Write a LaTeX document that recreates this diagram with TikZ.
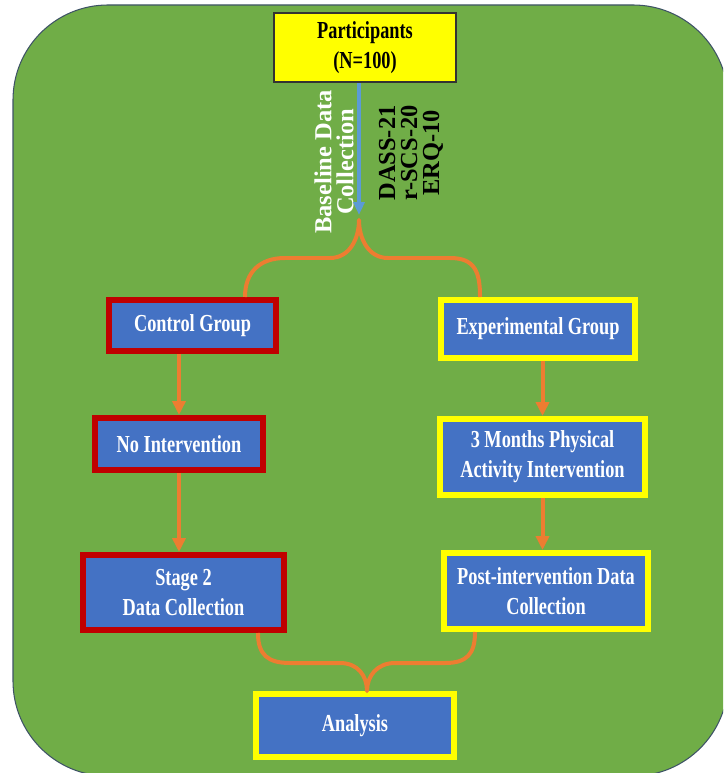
\documentclass[tikz,border=0pt]{standalone}
\usepackage{fontspec}
\setmainfont{Liberation Serif}
\newfontfamily\narrowfont{Liberation Serif}[FakeStretch=0.75]
\usepackage{tikz}
\usetikzlibrary{arrows.meta}
\definecolor{bggreen}{HTML}{70AD47}
\definecolor{boxblue}{HTML}{4472C4}
\definecolor{ctrlred}{HTML}{C00000}
\definecolor{expyellow}{HTML}{FFFF00}
\definecolor{linkorange}{HTML}{ED7D31}
\definecolor{arrowblue}{HTML}{5B9BD5}
\definecolor{rimgray}{HTML}{3E5366}

\begin{document}
\begin{tikzpicture}[x=0.02cm,y=-0.02cm,
  box/.style={draw,line width=0.12cm,fill=boxblue,text=white,align=center,inner sep=0pt,font=\narrowfont\bfseries\fontsize{13.9}{17}\selectfont},
  ctrl/.style={box,draw=ctrlred},
  expt/.style={box,draw=expyellow},
  link/.style={draw=linkorange,line width=0.08cm},
  brace/.style={link,line join=round},
  side/.style={rotate=90,align=center,font=\bfseries\fontsize{13.9}{12.5}\selectfont},
]
% background panel
\useasboundingbox (0,0) rectangle (723,773);
\clip (0,0) rectangle (723,773);
\filldraw[fill=bggreen,draw=rimgray,line width=0.6pt,rounded corners=1.9cm] (13,5) rectangle (728,776);
% top box
\node[fill=expyellow,draw=black!80,line width=1pt,minimum width=3.64cm,minimum height=1.38cm,align=center,
  font=\narrowfont\bfseries\fontsize{13.9}{17}\selectfont] (part) at (365,47.5) {Participants\\(N=100)};
% control arm
\node[ctrl,minimum width=3.34cm,minimum height=1.02cm] (cg) at (192.5,325.5) {Control Group};
\node[ctrl,minimum width=3.36cm,minimum height=1.04cm] (ni) at (179,444) {No Intervention};
\node[ctrl,minimum width=4.02cm,minimum height=1.5cm] (s2) at (183.5,592.5) {Stage 2\\Data Collection};
% experimental arm
\node[expt,minimum width=3.88cm,minimum height=1.16cm] (eg) at (538,329) {Experimental Group};
\node[expt,minimum width=4.1cm,minimum height=1.52cm] (pa) at (542.5,457) {3 Months Physical\\Activity Intervention};
\node[expt,minimum width=4.08cm,minimum height=1.52cm] (pd) at (546,591) {Post-intervention Data\\Collection};
% final box
\node[expt,minimum width=3.96cm,minimum height=1.26cm] (an) at (355,725.5) {Analysis};
% rotated labels
\node[side,text=white] (base) at (334,162) {Baseline Data\\Collection};
\node[side] (scales) at (411,153) {DASS-21\\r-SCS-20\\ERQ-10};
% baseline arrow and split
\coordinate (fork) at (359,220);
\draw[arrowblue,line width=0.08cm,-{Triangle[width=0.22cm,length=0.26cm]}] (part.south -| fork) -- ([yshift=0.1cm]fork);
\coordinate (cgtop) at ([xshift=1.05cm]cg.north);
\coordinate (egtop) at ([xshift=-1.16cm]eg.north);
\draw[brace] (cgtop) .. controls +(0,-25) and +(-25,0) .. (285,258) -- (330,258)
  .. controls +(20,0) and +(0,18) .. (fork) .. controls +(0,18) and +(-20,0) .. (388,258)
  -- (450,258) .. controls +(25,0) and +(0,-25) .. (egtop);
% arm arrows
\draw[link,-{Triangle[width=0.26cm,length=0.28cm]}] (cg.south -| ni.north) -- (ni.north);
\draw[link,-{Triangle[width=0.26cm,length=0.28cm]}] (ni.south) -- (ni.south |- s2.north);
\draw[link,-{Triangle[width=0.26cm,length=0.28cm]}] (eg.south -| pa.north) -- (pa.north);
\draw[link,-{Triangle[width=0.26cm,length=0.28cm]}] (pa.south) -- (pa.south |- pd.north);
% merge into analysis
\coordinate (s2bot) at ([xshift=1.49cm]s2.south);
\coordinate (pdbot) at ([xshift=-1.42cm]pd.south);
\coordinate (antop) at ([xshift=0.24cm]an.north);
\draw[brace] (s2bot) .. controls +(0,22) and +(-22,0) .. (290,663) -- (340,663)
  .. controls +(18,0) and +(0,-15) .. (antop) .. controls +(0,-15) and +(-18,0) .. (395,663)
  -- (445,663) .. controls +(22,0) and +(0,22) .. (pdbot);
\end{tikzpicture}
\end{document}
